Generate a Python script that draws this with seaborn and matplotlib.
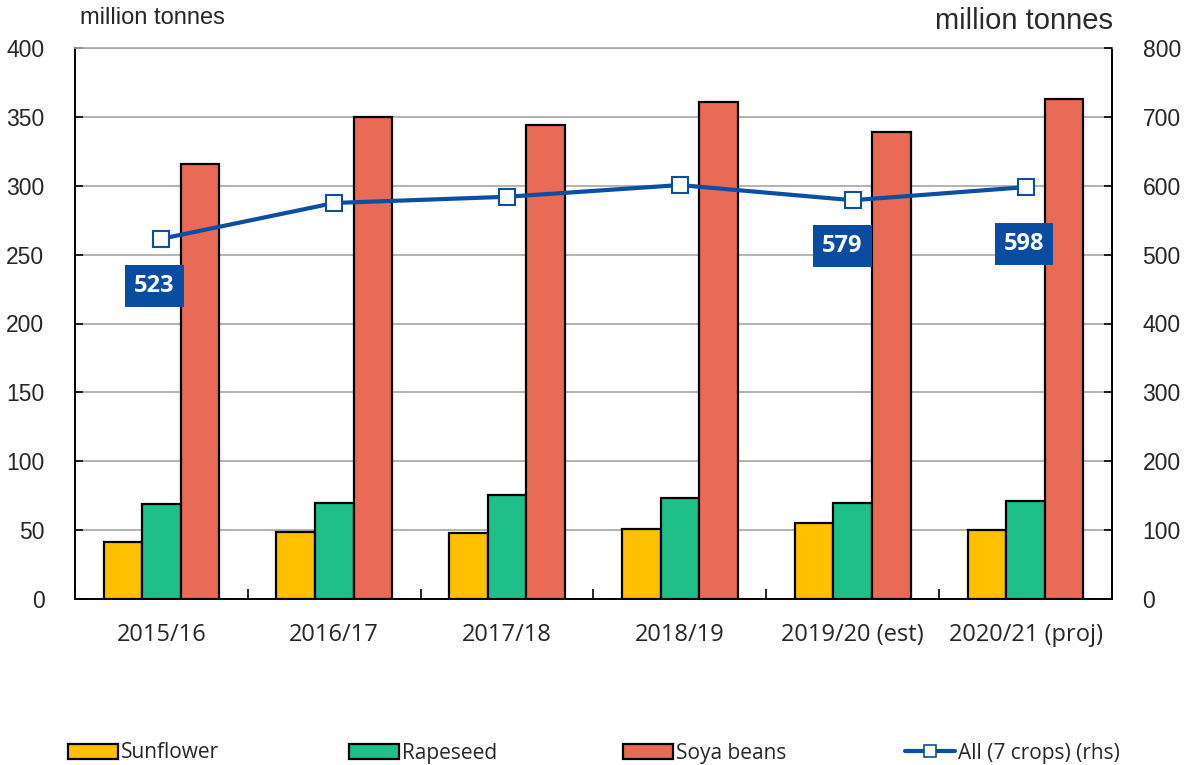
import matplotlib
matplotlib.use("Agg")
import matplotlib.pyplot as plt
import seaborn as sns
import pandas as pd
import numpy as np
from matplotlib.lines import Line2D
from matplotlib.patches import Patch

years = ["2015/16", "2016/17", "2017/18", "2018/19", "2019/20 (est)", "2020/21 (proj)"]
sunflower = [41.5, 48.5, 48.0, 51.0, 55.0, 50.0]
rapeseed = [69.0, 70.0, 75.5, 73.0, 70.0, 71.0]
soya = [315.5, 350.0, 344.0, 361.0, 339.0, 363.0]
all_crops = [523, 575, 584, 601, 579, 598]
labelled = {0: 523, 4: 579, 5: 598}

crop_names = ["Sunflower", "Rapeseed", "Soya beans"]
crop_colors = ["#FFC000", "#1FBF8A", "#E96B56"]
line_color = "#0B4EA2"

df = pd.DataFrame({
    "year": years * 3,
    "crop": [c for c in crop_names for _ in years],
    "value": sunflower + rapeseed + soya,
})

sns.set_theme(style="white")
plt.rcParams["font.family"] = ["Liberation Sans", "DejaVu Sans"]

fig = plt.figure(figsize=(11.84, 7.65), dpi=100)
ax = fig.add_axes([75 / 1184, 1 - 599 / 765, 1037 / 1184, 551 / 765])

sns.barplot(data=df, x="year", y="value", hue="crop", order=years,
            hue_order=crop_names, palette=crop_colors, width=0.67,
            edgecolor="black", linewidth=1.6, saturation=1, ax=ax, legend=False)

ax.set_ylim(0, 400)
ax.set_xlim(-0.5, len(years) - 0.5)
ax.set_yticks(np.arange(0, 401, 50))
ax.yaxis.grid(True, color="#A6A6A6", linewidth=1.2)
ax.set_axisbelow(True)
ax.set_xlabel("")
ax.set_ylabel("")
ax.tick_params(axis="y", labelsize=16.5, length=6, width=1.2, color="black",
               left=True, direction="in", pad=22)
ax.set_xticks(np.arange(len(years)))
ax.set_xticklabels(years, fontsize=17, family=["Open Sans", "DejaVu Sans"])
ax.tick_params(axis="x", length=0, pad=17)
ax.set_xticks(np.arange(-0.5, len(years), 1), minor=True)
ax.tick_params(axis="x", which="minor", length=7, width=1.2, direction="in",
               bottom=True, color="black")
for s in ["left", "bottom", "right"]:
    ax.spines[s].set_color("black")
    ax.spines[s].set_linewidth(1.4)
ax.spines["top"].set_color("#A6A6A6")
ax.spines["top"].set_linewidth(1.2)

ax2 = ax.twinx()
xs = np.arange(len(years))
ax2.plot(xs, all_crops, color=line_color, linewidth=3, marker="s",
         markersize=11, markerfacecolor="white", markeredgecolor=line_color,
         markeredgewidth=1.5, zorder=5)
ax2.set_ylim(0, 800)
ax2.set_yticks(np.arange(0, 801, 100))
ax2.tick_params(axis="y", labelsize=16.5, length=6, width=1.2, color="black",
                right=True, direction="in", pad=22)
for s in ax2.spines.values():
    s.set_visible(False)
ax2.grid(False)

offsets = {0: (-0.04, -68), 4: (-0.06, -67), 5: (-0.01, -82)}
for i, v in labelled.items():
    dx, dy = offsets[i]
    ax2.text(i + dx, v + dy, f"{v}", ha="center", va="center", color="white",
             fontsize=17, fontweight="bold", family=["Open Sans", "DejaVu Sans"],
             bbox=dict(boxstyle="square,pad=0.38", facecolor="#0A4DA0",
                       edgecolor="none"), zorder=6)

fig.text(80 / 1184, 1 - 18 / 765, "million tonnes", fontsize=17,
         ha="left", va="center")
fig.text(1113 / 1184, 1 - 21 / 765, "million tonnes", fontsize=21,
         ha="right", va="center", color="#2A2A2A")

handles = [Patch(facecolor=c, edgecolor="black", linewidth=1.6) for c in crop_colors]
handles.append(Line2D([0], [0], color=line_color, linewidth=3, marker="s",
                      markersize=9, markerfacecolor="white",
                      markeredgecolor=line_color, markeredgewidth=1.2))
labels = crop_names + ["All (7 crops) (rhs)"]
positions = [68, 349, 623, 905]
for h, l, x in zip(handles, labels, positions):
    fig.legend([h], [l], loc="center left",
               bbox_to_anchor=(x / 1184, 1 - 753 / 765),
               frameon=False, handlelength=2.4, handleheight=0.75,
               handletextpad=0.15, borderaxespad=0, borderpad=0,
               prop={"family": ["Open Sans", "DejaVu Sans"], "size": 15})

fig.savefig("out.png", dpi=100)
